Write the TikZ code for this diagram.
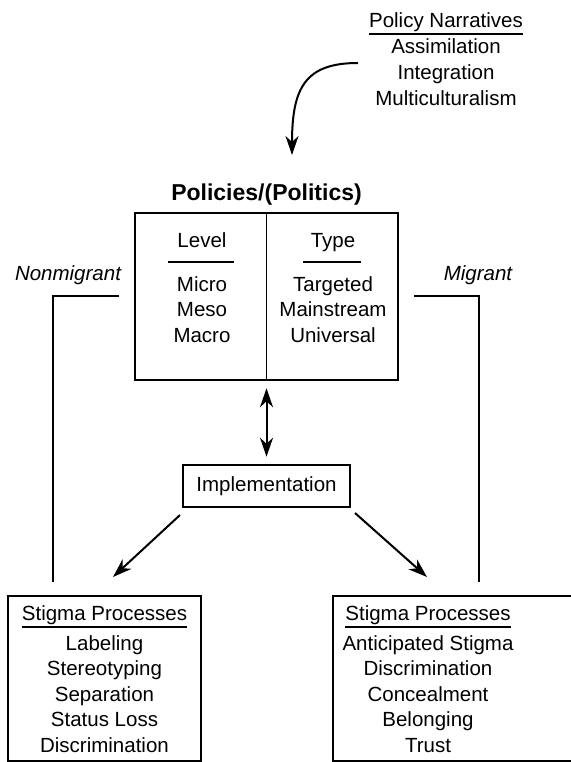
\documentclass[tikz,border=0pt]{standalone}
\usepackage{fontspec}
\setmainfont{Liberation Sans}
\usetikzlibrary{arrows.meta}

\begin{document}
\begin{tikzpicture}[x=1pt,y=-1pt]
\tikzstyle{txt} = [font=\fontsize{20.5}{24}\selectfont, inner sep=0pt, anchor=base]
\tikzstyle{box} = [rectangle, draw=black, line width=2.5pt, inner sep=0pt]
\tikzstyle{arrow} = [line width=2pt, ->, >={Stealth[length=19pt,width=13pt,inset=6pt]}]
\tikzstyle{uline} = [line width=1.4pt]
\tikzstyle{bracket} = [line width=2pt]
\useasboundingbox (0,0) rectangle (570,762);

% policy narratives
\node[txt](narr) at (446,28){Policy Narratives};
\draw[uline] ([yshift=-6pt]narr.base west) -- ([yshift=-6pt]narr.base east);
\foreach \w [count=\i] in {Assimilation,Integration,Multiculturalism}
  \node[txt](narr\i) at (446,{28+26*\i}){\w};
\coordinate (narrstart) at (358,63);
\coordinate (narrend) at (292,155);
\draw[arrow] (narrstart) .. controls (305,63) and (292,88) .. (narrend);

% policies box
\node[txt, font=\fontsize{23}{27}\selectfont\bfseries](title) at (266.5,200){Policies/(Politics)};
\node[box, minimum width=263pt, minimum height=167pt](polbox) at (266.5,296.5){};
\draw[line width=1pt] (polbox.north) -- (polbox.south);
\node[txt](level) at (202,247){Level};
\draw[uline] ([xshift=-9pt,yshift=-15pt]level.base west) -- ([xshift=7pt,yshift=-15pt]level.base east);
\foreach \w [count=\i] in {Micro,Meso,Macro}
  \node[txt](level\i) at (202,{265.5+25.5*\i}){\w};
\node[txt](type) at (333,247){Type};
\draw[uline] ([xshift=-8pt,yshift=-15pt]type.base west) -- ([xshift=6pt,yshift=-15pt]type.base east);
\foreach \w [count=\i] in {Targeted,Mainstream,Universal}
  \node[txt](type\i) at (333,{265.5+25.5*\i}){\w};

% groups
\node[txt, font=\fontsize{20.5}{24}\selectfont\itshape](nonmig) at (68,280){Nonmigrant};
\node[txt, font=\fontsize{20.5}{24}\selectfont\itshape](mig) at (478,280){Migrant};
\coordinate (nonmigA) at (119,296);
\coordinate (nonmigB) at (53,296);
\coordinate (nonmigC) at (53,582);
\coordinate (migA) at (414,296);
\coordinate (migB) at (479,296);
\coordinate (migC) at (479,582);
\draw[bracket] (nonmigA) -- (nonmigB) -- (nonmigC);
\draw[bracket] (migA) -- (migB) -- (migC);

% implementation
\node[box, minimum width=167pt, minimum height=42pt, font=\fontsize{20.5}{24}\selectfont](impl) at (266.5,486){Implementation};
\draw[arrow, <->, shorten <=7pt, shorten >=7pt] (polbox.south) -- (impl.north);
\coordinate (implL) at (180,515);
\coordinate (stigL) at (113,577);
\coordinate (implR) at (355,513);
\coordinate (stigR) at (427,577);
\draw[arrow] (implL) -- (stigL);
\draw[arrow] (implR) -- (stigR);

% stigma processes
\node[box, minimum width=193pt, minimum height=165pt](nonmigbox) at (104.5,678.5){};
\node[txt](nstig) at (104.5,620){Stigma Processes};
\draw[uline] ([yshift=-7pt]nstig.base west) -- ([yshift=-7pt]nstig.base east);
\foreach \w [count=\i] in {Labeling,Stereotyping,Separation,Status Loss,Discrimination}
  \node[txt](nstig\i) at (104.5,{624.5+25.5*\i}){\w};
\node[box, minimum width=243pt, minimum height=165pt](migbox) at (454.5,678.5){};
\node[txt](mstig) at (428,620){Stigma Processes};
\draw[uline] ([yshift=-7pt]mstig.base west) -- ([yshift=-7pt]mstig.base east);
\foreach \w [count=\i] in {Anticipated Stigma,Discrimination,Concealment,Belonging,Trust}
  \node[txt](mstig\i) at (428,{624.5+25.5*\i}){\w};
\end{tikzpicture}
\end{document}
